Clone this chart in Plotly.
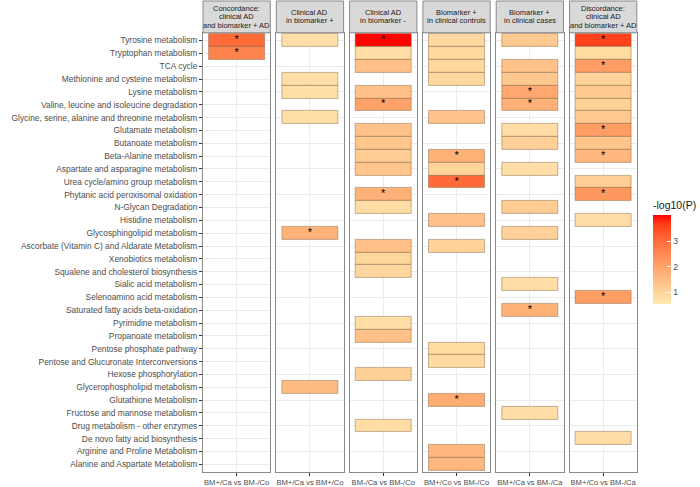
import plotly.graph_objects as go

pathways = [
    "Tyrosine metabolism", "Tryptophan metabolism", "TCA cycle",
    "Methionine and cysteine metabolism", "Lysine metabolism",
    "Valine, leucine and isoleucine degradation",
    "Glycine, serine, alanine and threonine metabolism", "Glutamate metabolism",
    "Butanoate metabolism", "Beta-Alanine metabolism",
    "Aspartate and asparagine metabolism", "Urea cycle/amino group metabolism",
    "Phytanic acid peroxisomal oxidation", "N-Glycan Degradation",
    "Histidine metabolism", "Glycosphingolipid metabolism",
    "Ascorbate (Vitamin C) and Aldarate Metabolism", "Xenobiotics metabolism",
    "Squalene and cholesterol biosynthesis", "Sialic acid metabolism",
    "Selenoamino acid metabolism", "Saturated fatty acids beta-oxidation",
    "Pyrimidine metabolism", "Propanoate metabolism", "Pentose phosphate pathway",
    "Pentose and Glucuronate Interconversions", "Hexose phosphorylation",
    "Glycerophospholipid metabolism", "Glutathione Metabolism",
    "Fructose and mannose metabolism", "Drug metabolism - other enzymes",
    "De novo fatty acid biosynthesis", "Arginine and Proline Metabolism",
    "Alanine and Aspartate Metabolism",
]

panel_titles = [
    ["Concordance:", "clinical AD", "and biomarker + AD"],
    ["Clinical AD", "in biomarker +"],
    ["Clinical AD", "in biomarker -"],
    ["Biomarker +", "in clinical controls"],
    ["Biomarker +", "in clinical cases"],
    ["Discordance:", "clinical AD", "and biomarker + AD"],
]
comparisons = ["BM+/Ca vs BM-/Co", "BM+/Ca vs BM+/Co", "BM-/Ca vs BM-/Co",
               "BM+/Co vs BM-/Co", "BM+/Ca vs BM-/Ca", "BM+/Co vs BM-/Ca"]

# row indices into `pathways`, -log10(P) values, significance flags
p1_rows = [0, 1]
p1_vals = [3.0, 2.6]
p1_sig = [1, 1]

p2_rows = [0, 3, 4, 6, 15, 27]
p2_vals = [0.75, 0.75, 0.75, 0.75, 1.7, 1.5]
p2_sig = [0, 0, 0, 0, 1, 0]

p3_rows = [0, 1, 2, 4, 5, 7, 8, 9, 10, 12, 13, 16, 17, 18, 22, 23, 26, 30]
p3_vals = [4.0, 0.8, 1.4, 1.4, 2.0, 1.35, 1.3, 1.15, 1.3, 1.7, 0.8, 1.4, 0.95, 0.95, 0.8, 1.4, 1.05, 0.8]
p3_sig = [1, 0, 0, 0, 1, 0, 0, 0, 0, 1, 0, 0, 0, 0, 0, 0, 0, 0]

p4_rows = [0, 1, 2, 3, 6, 9, 10, 11, 14, 16, 24, 25, 28, 32, 33]
p4_vals = [0.9, 0.9, 0.9, 0.9, 1.35, 1.7, 1.0, 3.0, 1.4, 1.0, 0.85, 0.85, 1.8, 1.6, 1.6]
p4_sig = [0, 0, 0, 0, 0, 1, 0, 1, 0, 0, 0, 0, 1, 0, 0]

p5_rows = [0, 2, 3, 4, 5, 7, 8, 10, 13, 15, 19, 21, 29]
p5_vals = [1.2, 1.35, 1.25, 1.9, 1.7, 0.8, 1.05, 0.75, 1.15, 1.05, 0.8, 1.7, 0.8]
p5_sig = [0, 0, 0, 1, 1, 0, 0, 0, 0, 0, 0, 1, 0]

p6_rows = [0, 1, 2, 3, 4, 5, 6, 7, 8, 9, 11, 12, 14, 20, 31]
p6_vals = [3.6, 0.85, 2.1, 1.0, 1.2, 1.05, 1.25, 2.1, 1.3, 1.6, 1.1, 2.2, 0.8, 2.1, 0.8]
p6_sig = [1, 0, 1, 0, 0, 0, 0, 1, 0, 1, 0, 1, 0, 1, 0]

panels = [(p1_rows, p1_vals, p1_sig), (p2_rows, p2_vals, p2_sig),
          (p3_rows, p3_vals, p3_sig), (p4_rows, p4_vals, p4_sig),
          (p5_rows, p5_vals, p5_sig), (p6_rows, p6_vals, p6_sig)]

colorbar_ticks = [1, 2, 3]


# ---- Lab-interpolated colour scale (like ggplot scale_fill_gradient) ----
def srgb_to_lab(c):
    def lin(u):
        u = u / 255.0
        return u / 12.92 if u <= 0.04045 else ((u + 0.055) / 1.055) ** 2.4
    r, g, b = (lin(v) for v in c)
    x = (0.4124 * r + 0.3576 * g + 0.1805 * b) / 0.95047
    y = (0.2126 * r + 0.7152 * g + 0.0722 * b)
    z = (0.0193 * r + 0.1192 * g + 0.9505 * b) / 1.08883
    f = lambda t: t ** (1 / 3) if t > 0.008856 else 7.787 * t + 16 / 116
    fx, fy, fz = f(x), f(y), f(z)
    return (116 * fy - 16, 500 * (fx - fy), 200 * (fy - fz))


def lab_to_srgb(lab):
    L, a, b = lab
    fy = (L + 16) / 116
    fx = fy + a / 500
    fz = fy - b / 200
    finv = lambda t: t ** 3 if t ** 3 > 0.008856 else (t - 16 / 116) / 7.787
    x, y, z = finv(fx) * 0.95047, finv(fy), finv(fz) * 1.08883
    r = 3.2406 * x - 1.5372 * y - 0.4986 * z
    g = -0.9689 * x + 1.8758 * y + 0.0415 * z
    bb = 0.0557 * x - 0.2040 * y + 1.0570 * z
    def gam(u):
        u = max(0.0, min(1.0, u))
        return 12.92 * u if u <= 0.0031308 else 1.055 * u ** (1 / 2.4) - 0.055
    return tuple(int(round(gam(v) * 255)) for v in (r, g, bb))


low_c, high_c = (255, 234, 178), (255, 0, 0)
la, lb = srgb_to_lab(low_c), srgb_to_lab(high_c)
colorscale = []
for i in range(11):
    t = i / 10
    lab = tuple(la[k] + (lb[k] - la[k]) * t for k in range(3))
    r, g, b = lab_to_srgb(lab)
    colorscale.append([t, f"rgb({r},{g},{b})"])

# ---- layout geometry (window pixels -> paper units) ----
W, H = 700, 487
x_start, pw, gap = 203, 67.3, 6.0
panel_top, panel_bot = 33, 475
strip_top = 1
line_step = 8.2


def px(xw):
    return xw / W


def py(yw):
    return 1 - yw / H


fig = go.Figure()
font_family = "Liberation Sans, Arial, sans-serif"

for i, (rows, vals, sig) in enumerate(panels):
    ax = "" if i == 0 else str(i + 1)
    names = [pathways[r] for r in rows]
    fig.add_trace(go.Bar(
        orientation="h", y=names, x=[1] * len(rows), base=[0.5] * len(rows),
        marker=dict(color=vals, coloraxis="coloraxis",
                    line=dict(color="rgba(120,95,60,0.55)", width=0.8)),
        xaxis="x" + ax, yaxis="y" + ax, showlegend=False, hoverinfo="skip",
    ))
    sy = [pathways[r] for r, s in zip(rows, sig) if s]
    fig.add_trace(go.Scatter(
        x=[1] * len(sy), y=sy, mode="text", text=["*"] * len(sy),
        textfont=dict(size=11, color="black", family=font_family),
        xaxis="x" + ax, yaxis="y" + ax, showlegend=False, hoverinfo="skip",
    ))
    xl = x_start + i * (pw + gap)
    x0, x1 = px(xl), px(xl + pw)
    fig.layout["xaxis" + ax] = dict(
        domain=[x0, x1], anchor="y" + ax, range=[0.4, 1.6],
        tickvals=[1], ticktext=[comparisons[i]], ticks="outside", ticklen=3,
        tickcolor="#333333", tickfont=dict(size=7.6, color="#4D4D4D"),
        showgrid=True, gridcolor="#EBEBEB", gridwidth=1, zeroline=False,
        showline=True, linecolor="#8A8A8A", linewidth=1, mirror=True,
        fixedrange=True,
    )
    fig.layout["yaxis" + ax] = dict(
        domain=[py(panel_bot), py(panel_top)], anchor="x" + ax,
        type="category", categoryorder="array", categoryarray=pathways,
        range=[len(pathways) - 0.4, -0.6],
        showticklabels=(i == 0), ticks="outside" if i == 0 else "", ticklen=3,
        tickcolor="#333333", tickfont=dict(size=8.4, color="#4D4D4D"),
        showgrid=True, gridcolor="#EBEBEB", gridwidth=1, zeroline=False,
        showline=True, linecolor="#8A8A8A", linewidth=1, mirror=True,
        fixedrange=True,
    )
    fig.add_shape(type="rect", xref="paper", yref="paper",
                  x0=x0, x1=x1, y0=py(panel_top), y1=py(strip_top),
                  fillcolor="#D9D9D9", line=dict(color="#8A8A8A", width=1))
    lines = panel_titles[i]
    yc = (panel_top + strip_top) / 2
    for k, txt in enumerate(lines):
        yl = yc + (k - (len(lines) - 1) / 2) * line_step
        fig.add_annotation(x=(x0 + x1) / 2, y=py(yl), xref="paper", yref="paper",
                           text=txt, showarrow=False, xanchor="center",
                           yanchor="middle",
                           font=dict(size=7.5, color="#1A1A1A", family=font_family))

fig.update_layout(
    width=W, height=H, margin=dict(l=0, r=0, t=0, b=0),
    paper_bgcolor="white", plot_bgcolor="white", bargap=0,
    font=dict(family=font_family),
    coloraxis=dict(
        colorscale=colorscale, cmin=0.53, cmax=4.02,
        colorbar=dict(
            title=dict(text="-log10(P)", side="top",
                       font=dict(size=10.5, color="#1A1A1A")),
            x=px(653), xanchor="left", y=py(253), yanchor="middle",
            len=106, lenmode="pixels", thickness=18, thicknessmode="pixels",
            tickvals=colorbar_ticks, ticks="inside", ticklen=4,
            tickcolor="white", tickfont=dict(size=8.5, color="#4D4D4D"),
            outlinewidth=0, xpad=0, ypad=0,
        ),
    ),
)

fig.write_html("out.html", config={"displayModeBar": False},
               post_script="document.body.style.margin='0px';")
